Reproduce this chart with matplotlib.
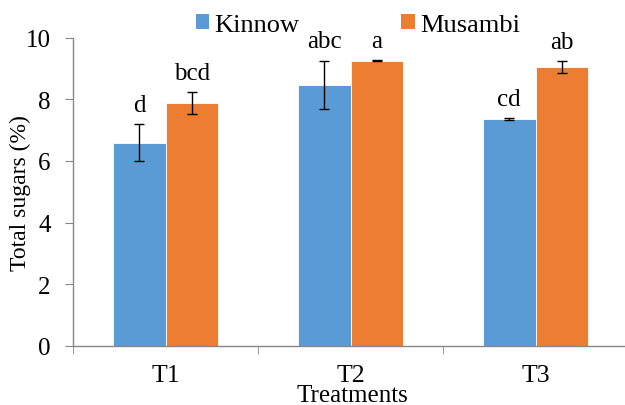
import matplotlib
matplotlib.use("Agg")
import matplotlib.pyplot as plt
from matplotlib.patches import Patch
import numpy as np

# ── 데이터 ──────────────────────────────────────────────
TREATMENTS = ["T1", "T2", "T3"]
KINNOW = [6.59, 8.46, 7.35]
KINNOW_ERR = [0.60, 0.79, 0.03]
KINNOW_LBL = ["d", "abc", "cd"]
MUSAMBI = [7.88, 9.25, 9.04]
MUSAMBI_ERR = [0.35, 0.02, 0.19]
MUSAMBI_LBL = ["bcd", "a", "ab"]

BLUE = "#5B9BD5"
ORANGE = "#ED7D31"
AXIS = "#868686"
W = 0.284

plt.rcParams["font.family"] = ["Liberation Serif", "DejaVu Serif"]

fig = plt.figure(figsize=(6.25, 4.06), dpi=100)
ax = fig.add_axes([73 / 625, 59 / 406, 555 / 625, 308.5 / 406])

x = np.arange(len(TREATMENTS))
series = [(KINNOW, KINNOW_ERR, KINNOW_LBL, BLUE, -W / 2),
          (MUSAMBI, MUSAMBI_ERR, MUSAMBI_LBL, ORANGE, W / 2)]
for vals, errs, lbls, col, off in series:
    ax.bar(x + off, vals, W, color=col, edgecolor="white", linewidth=0.6,
           yerr=errs, error_kw=dict(ecolor="black", elinewidth=1.0,
                                    capsize=3.5, capthick=1.0))
    for xi, v, e, t in zip(x + off, vals, errs, lbls):
        ax.annotate(t, (xi, v + e), xytext=(0, 6), textcoords="offset points",
                    ha="center", va="bottom", fontsize=18)

ax.set_xlim(-0.5, len(TREATMENTS) - 0.5)
ax.set_ylim(0, 10)
ax.set_yticks(range(0, 11, 2))
ax.set_xticks(x)
ax.set_xticklabels(TREATMENTS)
ax.set_xticks(np.arange(-0.5, len(TREATMENTS)), minor=True)
ax.tick_params(axis="x", which="major", length=0, pad=13, labelsize=18.5)
ax.tick_params(axis="x", which="minor", length=6, color=AXIS, direction="out")
ax.tick_params(axis="y", length=6, color=AXIS, pad=10, labelsize=18)

for s in ["top", "right"]:
    ax.spines[s].set_visible(False)
for s in ["left", "bottom"]:
    ax.spines[s].set_color(AXIS)
    ax.spines[s].set_linewidth(1.0)

ax.set_ylabel("Total sugars (%)", fontsize=17)
ax.yaxis.set_label_coords(-0.075, 0.5)
fig.text(352 / 625, 4 / 406, "Treatments", ha="center", va="baseline", fontsize=18)

handles = [Patch(facecolor=BLUE, label="Kinnow"),
           Patch(facecolor=ORANGE, label="Musambi")]
fig.legend(handles=handles, loc="center", bbox_to_anchor=(358 / 625, 1 - 26 / 406),
           ncol=2, frameon=False, fontsize=19, handlelength=0.51, handleheight=0.51,
           handletextpad=0.2, columnspacing=3.85, borderpad=0)

fig.savefig("out.png", dpi=100)
